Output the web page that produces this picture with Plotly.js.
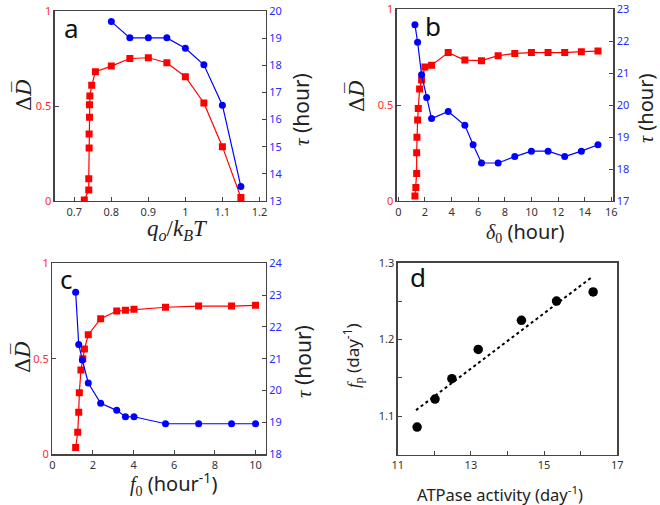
<!DOCTYPE html>
<html>
<head>
<meta charset="utf-8">
<script src="https://cdn.plot.ly/plotly-3.0.1.min.js"></script>
<style>html,body{margin:0;padding:0;background:#fff;}#chart{width:660px;height:505px;}</style>
</head>
<body>
<div id="chart"></div>
<script>
// Panel a
const aXRed = [0.727,0.739,0.739,0.740,0.740,0.741,0.741,0.742,0.747,0.757,0.80,0.85,0.90,0.95,1.00,1.05,1.10,1.15];
const aYRed = [0.005,0.058,0.117,0.279,0.353,0.441,0.507,0.553,0.609,0.680,0.710,0.750,0.754,0.728,0.654,0.516,0.286,0.018];
const aXBlue = [0.80,0.85,0.90,0.95,1.00,1.05,1.10,1.15];
const aTau = [19.61,19.01,19.01,19.01,18.63,18.02,16.53,13.53];
// Panel b
const bXRed = [1.25,1.32,1.38,1.38,1.40,1.45,1.50,1.60,1.75,2.00,2.50,3.75,5.00,6.25,7.50,8.75,10.0,11.25,12.5,13.75,15.0];
const bYRed = [0.026,0.071,0.144,0.252,0.332,0.422,0.483,0.584,0.631,0.699,0.708,0.774,0.735,0.732,0.758,0.770,0.774,0.774,0.774,0.779,0.782];
const bXBlue = [1.25,1.45,1.75,2.13,2.50,3.75,5.00,5.62,6.25,7.50,8.75,10.0,11.25,12.5,13.75,15.0];
const bTau = [22.52,21.97,20.95,20.24,19.58,19.80,19.37,18.76,18.19,18.19,18.39,18.56,18.56,18.39,18.56,18.76];
// Panel c
const cXRed = [1.15,1.25,1.30,1.33,1.41,1.50,1.58,1.77,2.38,3.17,3.60,4.02,5.57,7.20,8.82,10.0];
const cYRed = [0.035,0.115,0.220,0.322,0.441,0.500,0.551,0.626,0.710,0.750,0.754,0.759,0.770,0.776,0.776,0.780];
const cXBlue = [1.15,1.30,1.48,1.77,2.38,3.17,3.60,4.02,5.57,7.20,8.82,10.0];
const cTau = [23.09,21.45,20.96,20.24,19.60,19.38,19.18,19.18,18.96,18.96,18.96,18.96];
// Panel d
const dX = [11.53,12.02,12.48,13.20,14.38,15.34,16.34];
const dY = [1.086,1.1225,1.149,1.187,1.225,1.250,1.262];
const fitX = [11.5,16.3];
const fitY = [1.108,1.281];

// Texts
const panelLabels = ['a','b','c','d'];
const leftTitle = '\u0394<i>D\u0305</i>';
const rightTitle = '<span style="font-family:Liberation Serif, serif"><i>\u03c4</i></span> (hour)';
const xTitleA = '<span style="font-family:Liberation Serif, serif"><i>q<sub>o</sub></i>/<i>k<sub>B</sub>T</i></span>';
const xTitleB = '<span style="font-family:Liberation Serif, serif"><i>\u03b4</i><sub>0</sub></span> (hour)';
const xTitleC = '<span style="font-family:Liberation Serif, serif"><i>f</i><sub>0</sub></span> (hour<sup>-1</sup>)';
const xTitleD = 'ATPase activity (day<sup>-1</sup>)';
const yTitleD = '<span style="font-family:Liberation Serif, serif"><i>f</i><sub>p</sub></span> (day<sup>-1</sup>)';

const RED = '#ff0000', BLUE = '#0000ff';
const RED_TXT = '#ff2a2a', BLUE_TXT = '#2a2aff';
const W = 660, H = 505;
const dx = (a,b) => [a/W, b/W];
const dy = (top,bot) => [1-bot/H, 1-top/H];

function redTrace(x,y,xa,ya){return {x:x,y:y,xaxis:xa,yaxis:ya,type:'scatter',mode:'lines+markers',
  line:{color:RED,width:1.2},marker:{symbol:'square',size:7,color:RED},hoverinfo:'skip',showlegend:false};}
function blueTrace(x,y,xa,ya){return {x:x,y:y,xaxis:xa,yaxis:ya,type:'scatter',mode:'lines+markers',
  line:{color:BLUE,width:1.2},marker:{symbol:'circle',size:7,color:BLUE},hoverinfo:'skip',showlegend:false};}

const data = [
  redTrace(aXRed,aYRed,'x','y'), blueTrace(aXBlue,aTau,'x','y2'),
  redTrace(bXRed,bYRed,'x2','y3'), blueTrace(bXBlue,bTau,'x2','y4'),
  redTrace(cXRed,cYRed,'x3','y5'), blueTrace(cXBlue,cTau,'x3','y6'),
  {x:fitX,y:fitY,xaxis:'x4',yaxis:'y7',type:'scatter',mode:'lines',line:{color:'#000',width:2,dash:'dot'},hoverinfo:'skip',showlegend:false},
  {x:dX,y:dY,xaxis:'x4',yaxis:'y7',type:'scatter',mode:'markers',marker:{size:9.5,color:'#000'},hoverinfo:'skip',showlegend:false}
];

const tickFont = {family:'Noto Sans, Open Sans, sans-serif', size:11, color:'#333'};
const AX = '#444';
function xAxis(domain, range, tickvals, anchor){
  return {domain:domain, range:range, anchor:anchor, tickvals:tickvals, ticks:'inside', ticklen:4, tickcolor:AX,
    showline:true, linecolor:AX, linewidth:1.3, mirror:true, showgrid:false, zeroline:false, tickfont:tickFont};
}
function leftY(domain, anchor){
  return {domain:domain, range:[0,1], anchor:anchor, tickvals:[0,0.5,1], ticktext:['0','0.5','1'], ticks:'inside', ticklen:4, tickcolor:AX,
    showline:true, linecolor:AX, linewidth:1.3, showgrid:false, zeroline:false,
    tickfont:{family:tickFont.family,size:11,color:RED_TXT}};
}
function rightY(range, tickvals, overlay, anchor){
  return {range:range, overlaying:overlay, side:'right', anchor:anchor, tickvals:tickvals, ticks:'inside', ticklen:4, tickcolor:AX,
    showline:true, linecolor:AX, linewidth:1.3, showgrid:false, zeroline:false,
    tickfont:{family:tickFont.family,size:11,color:BLUE_TXT}};
}

function txt(text, x, y, size, family, angle){
  return {text:text, xref:'paper', yref:'paper', x:x/W, y:1-y/H, xanchor:'center', yanchor:'middle', borderpad:0,
    showarrow:false, textangle:angle||0, font:{family:family||'Noto Sans, sans-serif', size:size, color:'#222'}};
}
const SERIF = 'Liberation Serif, serif';
const DJS = 'DejaVu Serif, serif';
const letterFont = {family:'Noto Sans, sans-serif', size:26, color:'#111'};

const layout = {
  width:W, height:H, margin:{l:0,r:0,t:0,b:0}, paper_bgcolor:'#fff', plot_bgcolor:'#fff', showlegend:false,
  xaxis: xAxis(dx(54.7,265.7), [0.647,1.217], [0.7,0.8,0.9,1,1.1,1.2], 'y'),
  yaxis: leftY(dy(11,201), 'x'),
  yaxis2: rightY([13,20], [13,14,15,16,17,18,19,20], 'y', 'x'),
  xaxis2: xAxis(dx(396.7,613.3), [-0.12,16.15], [0,2,4,6,8,10,12,14,16], 'y3'),
  yaxis3: leftY(dy(9.3,201), 'x2'),
  yaxis4: rightY([17,23], [17,18,19,20,21,22,23], 'y3', 'x2'),
  xaxis3: xAxis(dx(52.3,265.7), [0,10.5], [0,2,4,6,8,10], 'y5'),
  yaxis5: leftY(dy(263.3,454.3), 'x3'),
  yaxis6: rightY([18,24], [18,19,20,21,22,23,24], 'y5', 'x3'),
  xaxis4: Object.assign(xAxis(dx(397.7,617.3), [11,17], [11,13,15,17], 'y7'),
    {minor:{tickvals:[12,14,16], ticks:'inside', ticklen:4, tickcolor:AX}}),
  yaxis7: {domain:dy(262.7,454.7), range:[1.05,1.3], anchor:'x4', tickvals:[1.1,1.2,1.3], ticktext:['1.1','1.2','1.3'],
    ticks:'inside', ticklen:4, tickcolor:AX, minor:{tickvals:[1.15,1.25], ticks:'inside', ticklen:4, tickcolor:AX},
    showline:true, linecolor:AX, linewidth:1.3, mirror:true, showgrid:false, zeroline:false, tickfont:tickFont},
  annotations: [
    Object.assign(txt(panelLabels[0], 71, 28, 26), {font:letterFont}),
    Object.assign(txt(panelLabels[1], 433, 26, 26), {font:letterFont}),
    Object.assign(txt(panelLabels[2], 66, 279, 26), {font:letterFont}),
    Object.assign(txt(panelLabels[3], 418, 277, 26), {font:letterFont}),
    // x titles
    txt(xTitleA, 177, 230, 23, SERIF),
    txt(xTitleB, 525, 232, 20),
    txt(xTitleC, 173, 483, 20),
    txt(xTitleD, 500, 494, 16.5),
    // left y titles
    txt(leftTitle, 24, 95, 21, DJS, -90),
    txt(leftTitle, 357, 96, 21, DJS, -90),
    txt(leftTitle, 22, 357, 21, DJS, -90),
    txt(yTitleD, 352, 356, 17, null, -90),
    // right y titles
    txt(rightTitle, 301, 110, 21, null, -90),
    txt(rightTitle, 646, 109, 20, null, -90),
    txt(rightTitle, 303, 362, 21, null, -90)
  ]
};

Plotly.newPlot('chart', data, layout, {staticPlot:true, displayModeBar:false});
</script>
</body>
</html>
